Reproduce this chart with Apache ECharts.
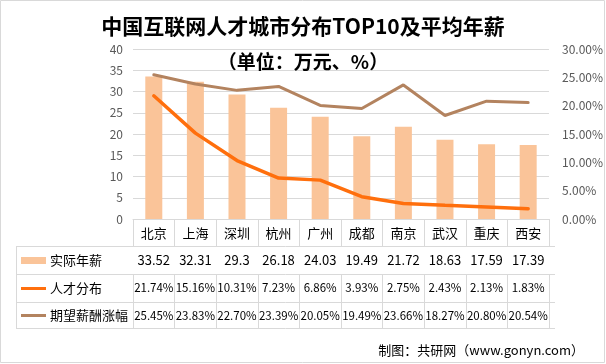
<!DOCTYPE html>
<html><head><meta charset="utf-8">
<script src="https://cdn.jsdelivr.net/npm/echarts@6/dist/echarts.min.js"></script>
<style>html,body{margin:0;padding:0;background:#fff}#c{width:606px;height:364px}</style>
</head><body><div id="c"></div>
<script>
var cities = ['北京','上海','深圳','杭州','广州','成都','南京','武汉','重庆','西安'];
var salary = [33.52,32.31,29.3,26.18,24.03,19.49,21.72,18.63,17.59,17.39];
var talentShare = [21.74,15.16,10.31,7.23,6.86,3.93,2.75,2.43,2.13,1.83];
var raiseExpect = [25.45,23.83,22.70,23.39,20.05,19.49,23.66,18.27,20.80,20.54];
var leftTicks = [0,40,5];
var rightTicks = [0,30,5];

var FONT = '"Noto Sans CJK SC","Microsoft YaHei",sans-serif';
var G = {left:133, top:49, width:422, height:170};
var ROW = [27, 28, 28, 26];
var tableLeft = 16;
var C_BAR = '#FAC499', C_OR = '#FF6F0D', C_BR = '#B3835F', C_LINE = '#D9D9D9';

var chart = echarts.init(document.getElementById('c'), null, {renderer:'canvas'});
var bottomY = G.top + G.height;
var rowY = [bottomY];
for (var i=0;i<ROW.length;i++) rowY.push(rowY[i]+ROW[i]);

function valAxis(data, off, h, fs) {
  return {type:'category', gridIndex:0, position:'bottom', offset:off, data:data,
    axisLine:{show:false}, axisTick:{show:true, length:h, lineStyle:{color:C_LINE}},
    axisLabel:{margin:8, fontFamily:FONT, fontSize:fs, color:'#000', interval:0}, splitLine:{show:false}};
}
var pct = function(v){return v.toFixed(2)+'%';};

var gfx = [
  {type:'rect', shape:{x:0.5,y:0.5,width:604,height:362}, style:{fill:null, stroke:'#D9D9D9', lineWidth:1}, silent:true}
];
for (var k=1;k<rowY.length;k++) {
  gfx.push({type:'line', shape:{x1:tableLeft,y1:rowY[k]+0.5,x2:G.left+G.width,y2:rowY[k]+0.5}, style:{stroke:C_LINE,lineWidth:1}});
}
gfx.push({type:'line', shape:{x1:tableLeft+0.5,y1:rowY[1],x2:tableLeft+0.5,y2:rowY[4]}, style:{stroke:C_LINE,lineWidth:1}});
gfx.push({type:'text', right:22, top:344, style:{text:'制图：共研网（www.gonyn.com）', font:'13px '+FONT, fill:'#000'}});

function leg(name, top, h) {
  return {data:[name], orient:'vertical', left:21, top:top, itemWidth:25, itemHeight:h, icon:'rect', itemGap:0,
    padding:0, textStyle:{fontFamily:FONT, fontSize:13, color:'#000', padding:[0,0,0,-1]}, selectedMode:false};
}

chart.setOption({
  animation:false,
  title:[
    {text:'中国互联网人才城市分布TOP10及平均年薪', left:'center', top:11, textStyle:{fontFamily:FONT, fontSize:21, fontWeight:'bold', color:'#000'}},
    {text:'（单位：万元、%）', left:'center', top:47, textStyle:{fontFamily:FONT, fontSize:19, fontWeight:'bold', color:'#000'}}
  ],
  legend:[ leg('实际年薪', rowY[1]+8, 7), leg('人才分布', rowY[2]+8, 3), leg('期望薪酬涨幅', rowY[3]+7, 3) ],
  grid:{left:G.left, top:G.top, width:G.width, height:G.height},
  xAxis:[
    {type:'category', data:cities, axisLine:{show:true, lineStyle:{color:C_LINE}},
     axisTick:{show:true, length:ROW[0], lineStyle:{color:C_LINE}},
     axisLabel:{margin:8, fontFamily:FONT, fontSize:13, color:'#000', interval:0}},
    valAxis(salary.map(String), ROW[0], ROW[1], 13),
    valAxis(talentShare.map(pct), ROW[0]+ROW[1], ROW[2], 11.5),
    valAxis(raiseExpect.map(pct), ROW[0]+ROW[1]+ROW[2], ROW[3], 11.5)
  ],
  yAxis:[
    {type:'value', min:leftTicks[0], max:leftTicks[1], interval:leftTicks[2],
     axisLine:{show:false}, axisTick:{show:false},
     axisLabel:{margin:10, fontFamily:FONT, fontSize:12, color:'#595959'},
     splitLine:{lineStyle:{color:C_LINE}}},
    {type:'value', min:rightTicks[0], max:rightTicks[1], interval:rightTicks[2],
     axisLine:{show:false}, axisTick:{show:false}, splitLine:{show:false},
     axisLabel:{margin:13, fontFamily:FONT, fontSize:12, color:'#595959', formatter:function(v){return v.toFixed(2)+'%';}}}
  ],
  series:[
    {name:'实际年薪', type:'bar', data:salary, barWidth:17, itemStyle:{color:C_BAR}},
    {name:'人才分布', type:'line', yAxisIndex:1, data:talentShare, symbol:'none', lineStyle:{color:C_OR, width:3.5, cap:'round'}, itemStyle:{color:C_OR}},
    {name:'期望薪酬涨幅', type:'line', yAxisIndex:1, data:raiseExpect, symbol:'none', lineStyle:{color:C_BR, width:3, cap:'round'}, itemStyle:{color:C_BR}}
  ],
  graphic:gfx
});
</script></body></html>
